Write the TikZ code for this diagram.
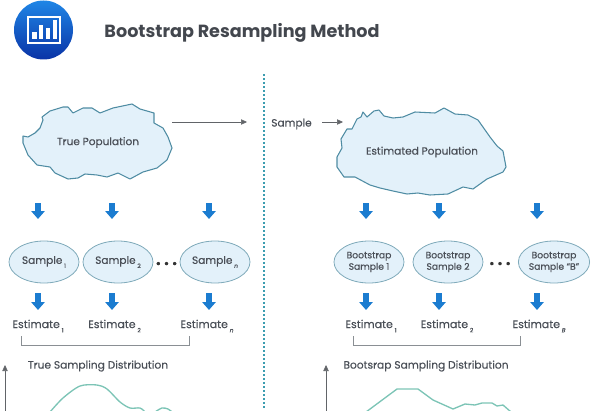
\documentclass[tikz,border=0pt]{standalone}
\usepackage{fontspec}
\setmainfont[FakeBold=0.35]{Poppins}
\newfontfamily\titlefont{Poppins}
\usetikzlibrary{arrows.meta,positioning,shapes.geometric}
\definecolor{inkgrey}{HTML}{4A4F57}
\definecolor{linegrey}{HTML}{8A8F94}
\definecolor{blobfill}{HTML}{E3F1FA}
\definecolor{blobline}{HTML}{4F8CA3}
\definecolor{ellline}{HTML}{7FAABA}
\definecolor{dotteal}{HTML}{3C9DB0}
\definecolor{curveteal}{HTML}{7CC4B6}
\definecolor{arrblue}{HTML}{1B7CD0}
\definecolor{icontop}{HTML}{1F86E6}
\definecolor{iconbot}{HTML}{0A33A6}
\newcommand{\subidx}[1]{\raisebox{-0.7ex}{\fontsize{4.4}{5}\selectfont #1}}

\begin{document}
\begin{tikzpicture}[
    x=0.75pt,y=-0.75pt,
    label/.style={text=inkgrey,inner sep=0pt,font=\fontsize{7.9}{9}\selectfont},
    esti/.style={text=inkgrey,inner sep=0pt,font=\fontsize{8.2}{9}\selectfont},
    head/.style={text=inkgrey,inner sep=0pt,font=\fontsize{8}{9}\selectfont},
    sample/.style={draw=ellline,fill=blobfill,line width=0.6pt,ellipse,minimum width=52.5pt,minimum height=31.5pt,inner sep=0pt,align=center,text=inkgrey,font=\fontsize{7.9}{9}\selectfont},
    boot/.style={sample,font=\fontsize{6.9}{8.6}\selectfont},
    blob/.style={draw=blobline,fill=blobfill,line width=0.8pt,line join=round},
    dist/.style={curveteal,line width=1pt},
    thin/.style={-{Triangle[length=4.5pt,width=4pt]},draw=linegrey!70!black,line width=0.45pt},
    blockarr/.style={-{Triangle[length=6pt,width=10pt]},draw=arrblue,fill=arrblue,line width=3.8pt},
    brack/.style={draw=linegrey,line width=0.6pt},
    dots/.style={text=black!80,inner sep=0pt,font=\fontsize{10}{10}\selectfont}
]
\useasboundingbox (0,0) rectangle (591,410);
\clip (0,0) rectangle (591,410);

\shade[top color=icontop,bottom color=iconbot] (43.5,30) circle (29.5);
\draw[white,line width=1pt] (28,17) rectangle (60,43);
\fill[white] (32,32) rectangle (37,39);
\fill[white] (38.5,25) rectangle (43,39);
\fill[white] (46,28) rectangle (50,39);
\fill[white] (53,20) rectangle (57,39);
\node[text=inkgrey!90!black,inner sep=0pt,font=\fontsize{13.2}{15}\selectfont\titlefont\bfseries] (title) at (242,33) {Bootstrap Resampling Method};

\draw[dotteal,line width=1.5pt,dash pattern=on 1.5pt off 1.5pt] (263.5,74) -- (263.5,410);

\draw[blob] (23,136)--(28,137)--(35,133)--(40,128)--(43,120)--(42,117)--(50,111)--(63,107)--(68,107)--(73,113)--(83,108)--(92,108)--(100,113)--(113,108)--(132,104)--(140,109)--(154,113)--(154,123)--(163,128)--(168,137)--(172,148)--(167,160)--(157,168)--(143,172)--(130,179)--(118,173)--(107,177)--(97,175)--(85,174)--(78,178)--(68,179)--(55,173)--(50,167)--(37,165)--(28,155)--(23,143)--cycle;
\node[label] (truepop) at (98,142.5) {True Population};

\draw[blob] (337,157)--(342,148)--(341,139)--(347,129)--(352,129)--(357,119)--(361,117)--(363,112)--(367,117)--(374,111)--(379,110)--(384,116)--(393,118)--(403,117)--(415,112)--(435,113)--(444,108)--(455,114)--(468,115)--(478,120)--(490,137)--(497,146)--(503,151)--(506,167)--(503,172)--(487,179)--(473,189)--(463,187)--(448,194)--(430,195)--(418,193)--(407,194)--(393,191)--(380,188)--(370,185)--(355,177)--(344,177)--(337,167)--cycle;
\node[label] (estpop) at (422,152) {Estimated Population};

\node[label] (smp) at (291.5,124) {Sample};
\coordinate (pa) at (172,122);
\coordinate (pb) at (247,122);
\coordinate (sa) at (322,122);
\coordinate (sb) at (343,122);
\draw[thin] (pa)--(pb); \draw[thin] (sa)--(sb);

\node[sample] (s1) at (44,262) {Sample\,\subidx{1}};
\node[sample] (s2) at (118,262) {Sample\,\subidx{2}};
\node[sample] (sn) at (215,262) {Sample\,\subidx{\itshape n}};
\node[dots] (ldots) at (166.5,265) {•\hspace{2pt}•\hspace{2pt}•};

\node[boot] (b1) at (369,262) {Bootstrap\\Sample 1};
\node[boot] (b2) at (448,262) {Bootstrap\\Sample 2};
\node[boot] (bb) at (554,262) {Bootstrap\\Sample “B”};
\node[dots] (rdots) at (500,265) {•\hspace{2pt}•\hspace{2pt}•};

\node[esti] (e1) at (38,326) {Estimate\,\subidx{1}};
\node[esti] (e2) at (114.5,326) {Estimate\,\subidx{2}};
\node[esti] (en) at (207,326) {Estimate\,\subidx{\itshape n}};
\node[esti] (f1) at (371,326) {Estimate\,\subidx{1}};
\node[esti] (f2) at (447,326) {Estimate\,\subidx{2}};
\node[esti] (fb) at (539,326) {Estimate\,\subidx{\itshape B}};

\coordinate (ta1) at (38,203); \coordinate (tb1) at (38,219);
\coordinate (ta2) at (112,203); \coordinate (tb2) at (112,219);
\coordinate (ta3) at (209,203); \coordinate (tb3) at (209,219);
\coordinate (ua1) at (366,203); \coordinate (ub1) at (366,219);
\coordinate (ua2) at (439,203); \coordinate (ub2) at (439,219);
\coordinate (ua3) at (537,203); \coordinate (ub3) at (537,219);
\draw[blockarr] (ta1)--(tb1); \draw[blockarr] (ta2)--(tb2); \draw[blockarr] (ta3)--(tb3);
\draw[blockarr] (ua1)--(ub1); \draw[blockarr] (ua2)--(ub2); \draw[blockarr] (ua3)--(ub3);

\coordinate (va1) at (38,293); \coordinate (vb1) at (38,310);
\coordinate (va2) at (112,293); \coordinate (vb2) at (112,310);
\coordinate (va3) at (209,293); \coordinate (vb3) at (209,310);
\coordinate (wa1) at (366,293); \coordinate (wb1) at (366,310);
\coordinate (wa2) at (439,293); \coordinate (wb2) at (439,310);
\coordinate (wa3) at (537,293); \coordinate (wb3) at (537,310);
\draw[blockarr] (va1)--(vb1); \draw[blockarr] (va2)--(vb2); \draw[blockarr] (va3)--(vb3);
\draw[blockarr] (wa1)--(wb1); \draw[blockarr] (wa2)--(wb2); \draw[blockarr] (wa3)--(wb3);

\coordinate (la) at (21,336); \coordinate (lb) at (189,336);
\coordinate (ra) at (353,336); \coordinate (rb) at (520,336);
\draw[brack] (la)--++(0,9)-|(lb);
\draw[brack] (ra)--++(0,9)-|(rb);

\node[head] (ltitle) at (98,366) {True Sampling Distribution};
\node[head] (rtitle) at (426,366) {Bootsrap Sampling Distribution};

\coordinate (xa) at (5,412); \coordinate (xb) at (5,365);
\coordinate (ya) at (326,412); \coordinate (yb) at (326,365);
\draw[thin] (xa)--(xb); \draw[thin] (ya)--(yb);

\draw[dist] plot[smooth,tension=0.5] coordinates {(50,412)(63,398)(80,386)(97,385)(107,389)(120,402)(130,408)(140,408)(145,412)};
\draw[dist] plot[smooth,tension=0.5] coordinates {(155,412)(162,408)(168,409)(172,412)};
\draw[dist,line join=round] (366,412)--(397,389)--(418,389)--(433,400)--(453,409)--(465,404)--(475,405)--(482,403)--(492,403)--(497,406)--(503,405)--(511,412);
\end{tikzpicture}
\end{document}
